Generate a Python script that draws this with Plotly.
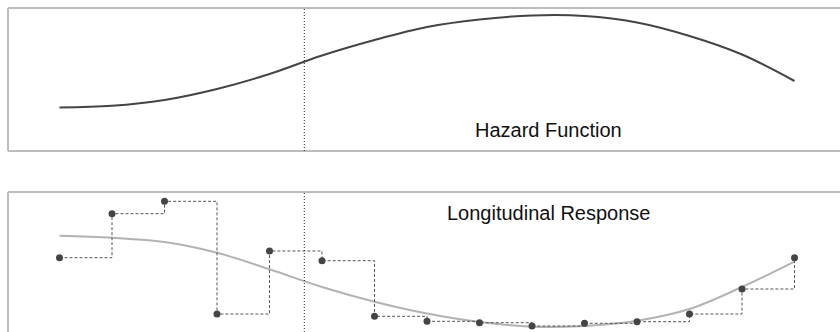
import plotly.graph_objects as go

# Visit times (equally spaced measurement occasions)
visit_times = list(range(15))

# Hazard function evaluated at the visit times
hazard = [0.435, 0.452, 0.51, 0.62, 0.77, 0.955, 1.11, 1.24,
          1.315, 1.355, 1.35, 1.285, 1.15, 0.965, 0.70]

# Observed longitudinal measurements
observed = [3.715, 5.915, 6.535, 0.90, 4.05, 3.565, 0.785, 0.535,
            0.465, 0.30, 0.435, 0.515, 0.90, 2.15, 3.715]

# Smooth fitted longitudinal trajectory
fitted = [4.815, 4.715, 4.50, 3.965, 3.135, 2.25, 1.515, 0.925,
          0.50, 0.265, 0.30, 0.565, 1.15, 2.25, 3.515]

# Time at which the vertical reference line is drawn
ref_time = 4.663

W, H = 840, 332
px_per_unit = 52.5
x0_px = 59.5
x_range = [(8 - x0_px) / px_per_unit, (W - x0_px) / px_per_unit]

top_dom = [1 - 151 / H, 1 - 8 / H]
bot_dom = [0, 1 - 192 / H]

fig = go.Figure()

fig.add_trace(go.Scatter(
    x=visit_times, y=hazard, mode="lines",
    line=dict(color="#444444", width=2, shape="spline", smoothing=1.0),
    xaxis="x", yaxis="y", hoverinfo="skip", showlegend=False))

fig.add_trace(go.Scatter(
    x=visit_times, y=fitted, mode="lines",
    line=dict(color="#b3b3b3", width=2, shape="spline", smoothing=1.0),
    xaxis="x2", yaxis="y2", hoverinfo="skip", showlegend=False))

fig.add_trace(go.Scatter(
    x=visit_times, y=observed, mode="lines+markers",
    line=dict(color="#555555", width=1, shape="hv", dash="3px,2px"),
    marker=dict(color="#444444", size=7),
    xaxis="x2", yaxis="y2", hoverinfo="skip", showlegend=False))

axis_common = dict(visible=False, showgrid=False, zeroline=False, fixedrange=True)
fig.update_layout(
    width=W, height=H,
    margin=dict(l=0, r=0, t=0, b=0),
    paper_bgcolor="white", plot_bgcolor="white",
    xaxis=dict(domain=[8 / W, 1], range=x_range, anchor="y", **axis_common),
    yaxis=dict(domain=top_dom, range=[0, 1.43], anchor="x", **axis_common),
    xaxis2=dict(domain=[8 / W, 1], range=x_range, anchor="y2", **axis_common),
    yaxis2=dict(domain=bot_dom, range=[0, 7.0], anchor="x2", **axis_common),
    font=dict(family="Liberation Sans, Arial, sans-serif", color="#111111"),
)

# Panel frames (open on the right)
border = dict(color="#bdbdbd", width=2)
shapes = [
    dict(type="line", xref="paper", yref="paper", x0=8 / W, x1=1, y0=top_dom[1], y1=top_dom[1], line=border),
    dict(type="line", xref="paper", yref="paper", x0=8 / W, x1=1, y0=top_dom[0], y1=top_dom[0], line=border),
    dict(type="line", xref="paper", yref="paper", x0=8 / W, x1=8 / W, y0=top_dom[0], y1=top_dom[1], line=border),
    dict(type="line", xref="paper", yref="paper", x0=8 / W, x1=1, y0=bot_dom[1], y1=bot_dom[1], line=border),
    dict(type="line", xref="paper", yref="paper", x0=8 / W, x1=8 / W, y0=bot_dom[0], y1=bot_dom[1], line=border),
]
# Dotted vertical reference line in both panels
ref_line = dict(color="#222222", width=1, dash="1px,2px")
shapes.append(dict(type="line", xref="x", yref="paper", x0=ref_time, x1=ref_time,
                   y0=top_dom[0], y1=top_dom[1], line=ref_line))
shapes.append(dict(type="line", xref="x2", yref="paper", x0=ref_time, x1=ref_time,
                   y0=bot_dom[0], y1=bot_dom[1], line=ref_line))
fig.update_layout(shapes=shapes)

fig.add_annotation(text="Hazard Function", x=9.32, y=0.21, xref="x", yref="y",
                   showarrow=False, font=dict(size=20), xanchor="center", yanchor="middle")
fig.add_annotation(text="Longitudinal Response", x=9.32, y=5.95, xref="x2", yref="y2",
                   showarrow=False, font=dict(size=20), xanchor="center", yanchor="middle")

fig.write_html("out.html", config={"displayModeBar": False})
